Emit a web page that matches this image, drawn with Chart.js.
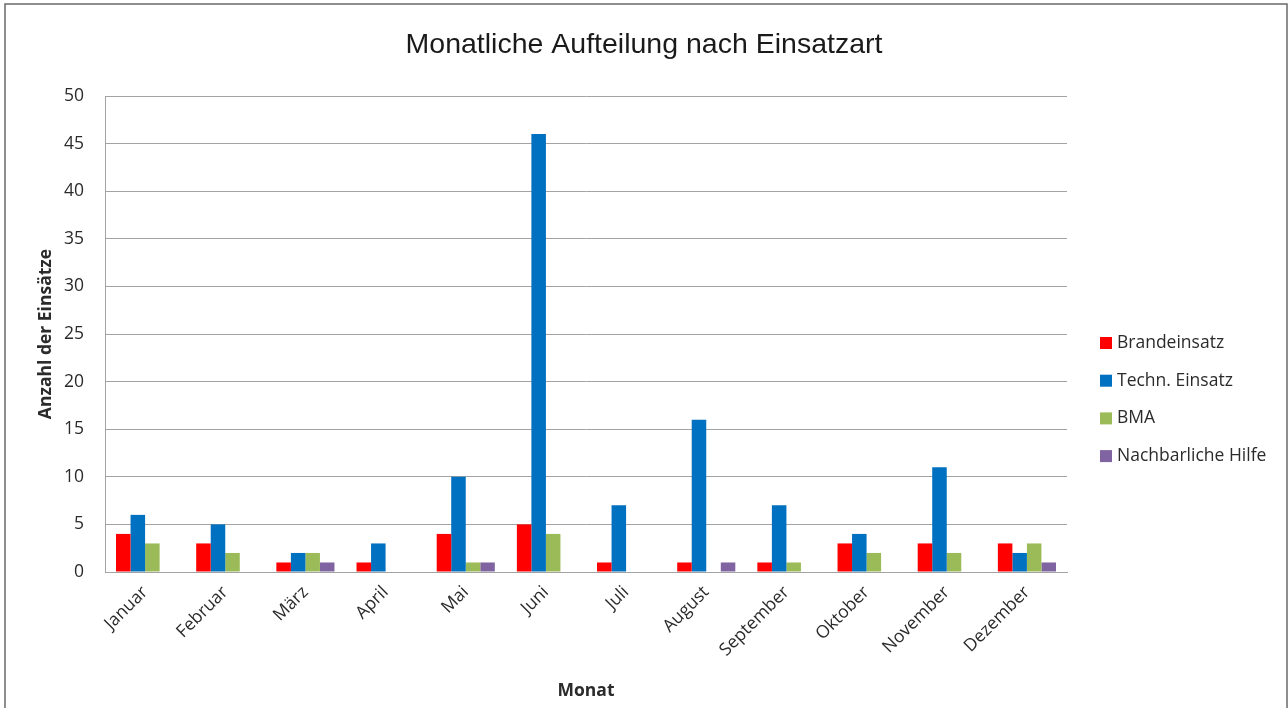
<!DOCTYPE html>
<html>
<head>
<meta charset="utf-8">
<script src="https://cdn.jsdelivr.net/npm/chart.js@4"></script>
<style>
  html, body { margin: 0; padding: 0; background: #fff; }
</style>
</head>
<body>
<canvas id="chart" width="1288" height="708"></canvas>
<script>
// ================= DATEN =================
const monate = ["Januar", "Februar", "März", "April", "Mai", "Juni",
  "Juli", "August", "September", "Oktober", "November", "Dezember"];

const brandeinsatz = [4, 3, 1, 1, 4, 5, 1, 1, 1, 3, 3, 3];
const technEinsatz = [6, 5, 2, 3, 10, 46, 7, 16, 7, 4, 11, 2];
const bma          = [3, 2, 2, 0, 1, 4, 0, 0, 1, 2, 2, 3];
const nachbarHilfe = [0, 0, 1, 0, 1, 0, 0, 1, 0, 0, 0, 1];

const serien = ["Brandeinsatz", "Techn. Einsatz", "BMA", "Nachbarliche Hilfe"];
const farben = ["#FF0000", "#0070C0", "#9BBB59", "#8064A2"];

// ================= STIL =================
const FONT = "'Open Sans', sans-serif";
const TEXT = "#2b2b2b";
const GRID = "#a3a3a3";
const SIZE = 17.5;

// Rahmen + weißer Hintergrund
const rahmen = {
  id: "rahmen",
  beforeDraw(chart) {
    const ctx = chart.ctx;
    ctx.save();
    ctx.fillStyle = "#fff";
    ctx.fillRect(0, 0, chart.width, chart.height);
    ctx.strokeStyle = "#6a6a6a";
    ctx.lineWidth = 1.5;
    ctx.strokeRect(5, 4, 1282, 800);
    ctx.restore();
  }
};

// Legende rechts, wie im Original
const legende = {
  id: "legende",
  afterDraw(chart) {
    const ctx = chart.ctx;
    ctx.save();
    ctx.font = SIZE + "px " + FONT;
    ctx.textBaseline = "middle";
    chart.data.datasets.forEach((ds, i) => {
      const y = 343 + i * 37.7;
      ctx.fillStyle = ds.backgroundColor;
      ctx.fillRect(1100, y - 6, 12, 12);
      ctx.fillStyle = TEXT;
      ctx.fillText(ds.label, 1117, y);
    });
    ctx.restore();
  }
};

const werte = [brandeinsatz, technEinsatz, bma, nachbarHilfe];

new Chart(document.getElementById("chart"), {
  type: "bar",
  data: {
    labels: monate,
    datasets: serien.map((name, i) => ({
      label: name,
      data: werte[i],
      backgroundColor: farben[i],
      borderWidth: 0,
      categoryPercentage: 0.725,
      barPercentage: 1
    }))
  },
  options: {
    responsive: false,
    animation: false,
    layout: { padding: 0 },
    plugins: {
      legend: { display: false },
      tooltip: { enabled: false },
      title: {
        display: true,
        text: "Monatliche Aufteilung nach Einsatzart",
        color: "#1a1a1a",
        font: { family: "'Liberation Sans', Arial, sans-serif", size: 28.5, weight: "normal" },
        padding: { top: 27.6, bottom: 34.2 }
      }
    },
    scales: {
      x: {
        grid: { display: false, drawTicks: false },
        border: { color: GRID, width: 1 },
        ticks: {
          color: TEXT,
          font: { family: FONT, size: SIZE },
          minRotation: 45,
          maxRotation: 45,
          padding: 10
        },
        title: {
          display: true,
          text: "Monat",
          color: TEXT,
          font: { family: FONT, size: SIZE, weight: "bold" },
          padding: { top: 0, bottom: 6.5 }
        },
        afterFit(scale) { scale.height = 136; }
      },
      y: {
        min: 0,
        max: 50,
        grid: { color: GRID, drawTicks: false },
        border: { color: GRID, width: 1 },
        ticks: {
          stepSize: 5,
          color: TEXT,
          font: { family: FONT, size: SIZE },
          padding: 21
        },
        title: {
          display: true,
          text: "Anzahl der Einsätze",
          color: TEXT,
          font: { family: FONT, size: SIZE, weight: "bold" },
          padding: { top: 36, bottom: 0 }
        },
        afterFit(scale) { scale.width = 105; }
      },
      // Platz für die Legende rechts
      platz: {
        position: "right",
        grid: { display: false },
        border: { display: false },
        ticks: { display: false },
        afterFit(scale) { scale.width = 221; }
      }
    }
  },
  plugins: [rahmen, legende]
});
</script>
</body>
</html>
